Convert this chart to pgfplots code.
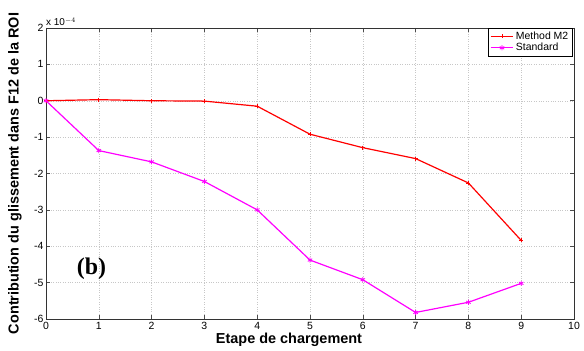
\documentclass[border=0pt]{standalone}
\usepackage{pgfplots}
\pgfplotsset{compat=1.18}
\usepackage{fontspec}
\setmainfont{Liberation Sans}
\newfontfamily\timesfont{Liberation Serif}
\definecolor{mred}{RGB}{255,0,0}
\definecolor{mmag}{RGB}{255,0,255}
\begin{document}
\begin{tikzpicture}[x=1bp,y=1bp]
\begin{axis}[
  scale only axis,
  width=528bp, height=291bp,
  xmin=0, xmax=10, ymin=-6, ymax=2,
  xtick={0,1,...,10}, ytick={-6,-5,...,2},
  tick align=inside,
  tick style={black!70, line width=0.5pt},
  major tick length=4bp,
  axis line style={black!80, line width=0.6pt},
  grid=major,
  grid style={dotted, black!22, line width=0.4pt},
  /pgf/number format/assume math mode=true,
  ticklabel style={font=\fontsize{10.5}{12}\selectfont},
  yticklabel style={xshift=1bp},
  xlabel={\textbf{Etape de chargement}},
  ylabel={\textbf{Contribution du glissement dans F12 de la ROI}},
  label style={font=\fontsize{14.5}{16}\selectfont},
  xlabel style={at={(rel axis cs:0.5,0)}, anchor=center, yshift=-21bp, xshift=-21bp},
  ylabel style={at={(rel axis cs:0,0.5)}, anchor=center, yshift=31bp},
  legend style={at={([xshift=-2bp]rel axis cs:1,1)}, anchor=north east, font=\fontsize{10.5}{11}\selectfont, draw=black, line width=0.5pt, inner sep=1.5pt, row sep=-1.5pt, cells={anchor=west}},
  legend image code/.code={\draw[mark repeat=2,mark phase=2] plot coordinates {(0cm,0cm) (0.4cm,0cm) (0.8cm,0cm)};},
  legend cell align=left,
  clip=false,
]
\coordinate (ll) at (rel axis cs:0,0);
\coordinate (ur) at (rel axis cs:1,1);
\addplot[mred, line width=1.2pt, mark=+, mark size=2pt, mark options={line width=0.8pt}] coordinates {
(0,0) (1,0.03) (2,0.0) (3,-0.01) (4,-0.15) (5,-0.92) (6,-1.29) (7,-1.59) (8,-2.26) (9,-3.84)
};
\addlegendentry{Method M2}
\addplot[mmag, line width=1.2pt, mark=asterisk, mark size=2.6pt, mark options={line width=0.8pt}] coordinates {
(0,0) (1,-1.37) (2,-1.68) (3,-2.22) (4,-3.0) (5,-4.38) (6,-4.92) (7,-5.82) (8,-5.54) (9,-5.02)
};
\addlegendentry{Standard}
\node[anchor=south west, font=\fontsize{10}{11}\selectfont, inner sep=0pt, yshift=2bp] at (rel axis cs:0,1) {x 10$^{-4}$};
\node[font=\timesfont\bfseries\fontsize{24}{26}\selectfont] at (axis cs:0.86,-4.62) {(b)};
\end{axis}
\pgfresetboundingbox
\path ([shift={(-46bp,-32bp)}]ll) rectangle ([shift={(10bp,28bp)}]ur);
\end{tikzpicture}
\end{document}
